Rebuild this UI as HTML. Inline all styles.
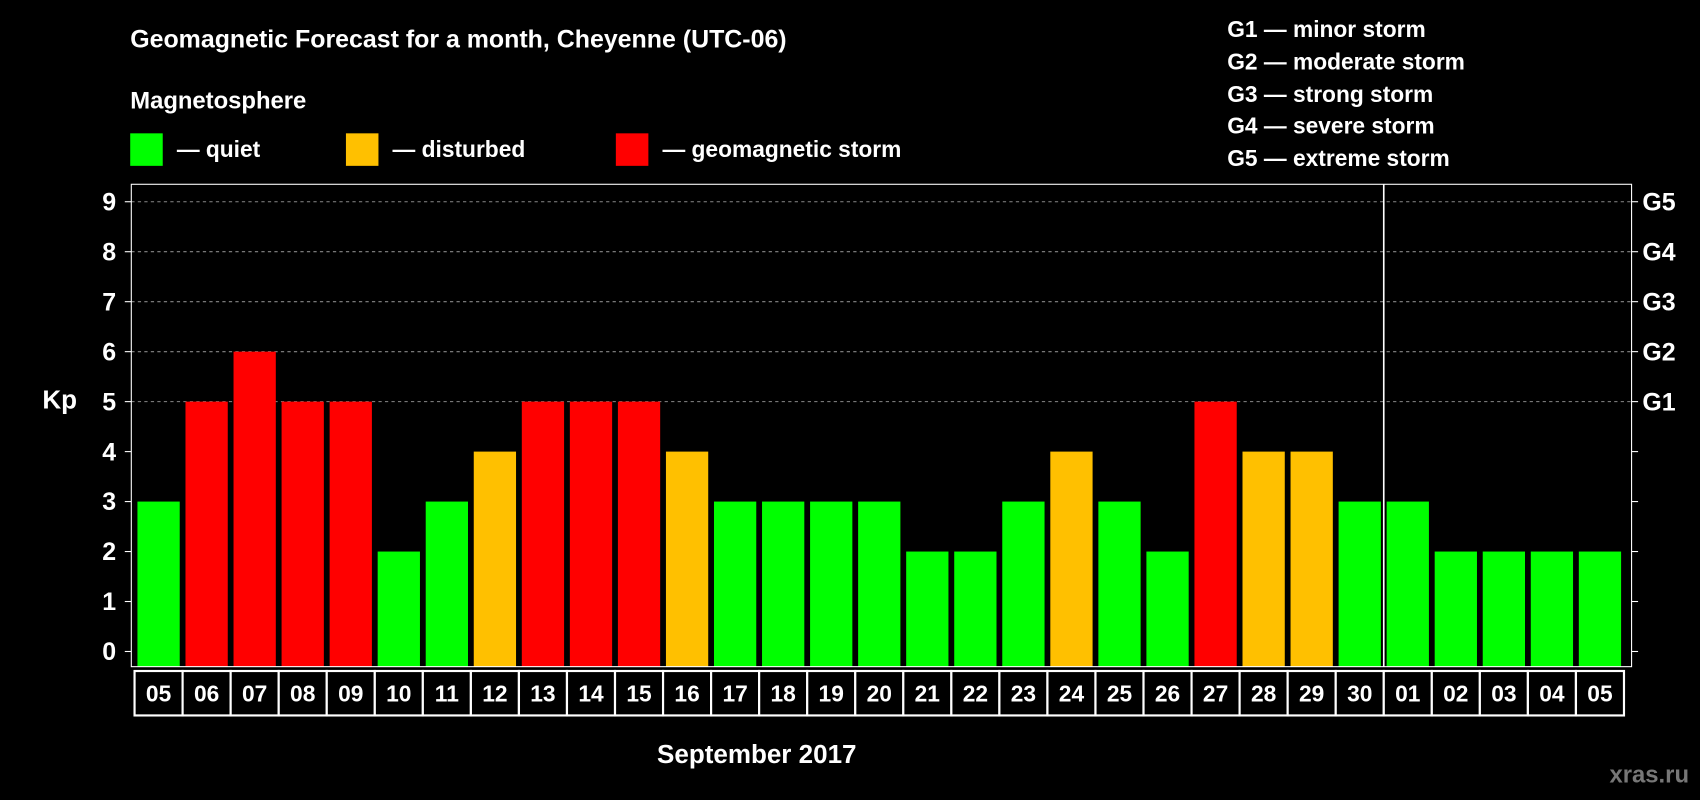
<!DOCTYPE html>
<html><head><meta charset="utf-8"><style>
html,body{margin:0;padding:0;background:#000;width:1700px;height:800px;overflow:hidden}
svg{display:block}
text{font-family:"Liberation Sans",sans-serif;font-weight:bold;fill:#fff}
</style></head><body>
<svg id="chart" width="1700" height="800" viewBox="0 0 1568 738" xmlns="http://www.w3.org/2000/svg">
<rect width="1568" height="738" fill="#000"/>
<text x="120" y="44" font-size="23">Geomagnetic Forecast for a month, Cheyenne (UTC-06)</text>
<text x="120" y="100" font-size="22">Magnetosphere</text>
<g>
<rect x="120" y="123" width="30" height="30" fill="#00ff00"/>
<text x="163" y="145" font-size="21">— quiet</text>
<rect x="319" y="123" width="30" height="30" fill="#ffc000"/>
<text x="362" y="145" font-size="21">— disturbed</text>
<rect x="568" y="123" width="30" height="30" fill="#ff0000"/>
<text x="611" y="145" font-size="21">— geomagnetic storm</text>
</g>
<g font-size="21">
<text x="1132" y="34">G1 — minor storm</text>
<text x="1132" y="64">G2 — moderate storm</text>
<text x="1132" y="94">G3 — strong storm</text>
<text x="1132" y="123">G4 — severe storm</text>
<text x="1132" y="153">G5 — extreme storm</text>
</g>
<text x="39" y="377" font-size="24">Kp</text>
<text x="698" y="704" font-size="24" text-anchor="middle">September 2017</text>
<text x="1558" y="722" font-size="22" text-anchor="end" fill="#777" style="fill:#777">xras.ru</text>
<g id="plot"></g>
</svg>
<script>
const dayLabels=["05","06","07","08","09","10","11","12","13","14","15","16","17","18","19","20","21","22","23","24","25","26","27","28","29","30","01","02","03","04","05"];
const kpValues=[3,5,6,5,5,2,3,4,5,5,5,4,3,3,3,3,2,2,3,4,3,2,5,4,4,3,3,2,2,2,2];
const yTicks=[0,1,2,3,4,5,6,7,8,9];
const gLabels=["G1","G2","G3","G4","G5"];
const gLevels=[5,6,7,8,9];
const monthBoundaryIndex=26;
const NS="http://www.w3.org/2000/svg";
const plot=document.getElementById('plot');
const L=121,R=1505,T=170,B=615,x0=124,step=(1498-124)/31;
const y=v=>601-v*46.1;
const xc=i=>x0+step*(i+0.5);
function mk(t,a){const e=document.createElementNS(NS,t);for(const k in a)e.setAttribute(k,a[k]);plot.appendChild(e);return e;}
// gridlines
gLevels.forEach((v,i)=>{
 const g=mk('line',{x1:L,x2:R,y1:y(v),y2:y(v),stroke:'#888','stroke-dasharray':'3,3','stroke-width':1});
 
 
 const t=mk('text',{x:R+10,y:y(v)+8,'font-size':23});
 t.textContent=gLabels[i];
 
 
});
// bars
kpValues.forEach((v,i)=>{
 const c=v>=5?'#ff0000':(v>=4?'#ffc000':'#00ff00');
 const b=mk('rect',{x:xc(i)-19.5,y:y(v),width:39,height:B-y(v),fill:c});
 
 
});
// axis frame
const fr=mk('rect',{x:L,y:T,width:R-L,height:B-T,fill:'none',stroke:'#fff','stroke-width':1});


const vl=mk('line',{x1:x0+step*monthBoundaryIndex,x2:x0+step*monthBoundaryIndex,y1:T,y2:B,stroke:'#fff','stroke-width':1.5});


yTicks.forEach(v=>{
 const a=mk('line',{x1:L-6,x2:L,y1:y(v),y2:y(v),stroke:'#fff'});
 
 
 const b=mk('line',{x1:R,x2:R+6,y1:y(v),y2:y(v),stroke:'#fff'});
 
 
 const t=mk('text',{x:L-14,y:y(v)+8,'font-size':23,'text-anchor':'end'});
 t.textContent=v;
 
 
});
// date boxes
dayLabels.forEach((d,i)=>{
 const r=mk('rect',{x:x0+step*i,y:619,width:step,height:41,fill:'#000',stroke:'#fff','stroke-width':2});
 
 
 const t=mk('text',{x:xc(i),y:647,'font-size':21,'text-anchor':'middle'});
 t.textContent=d;
 
 
});
</script>
</body></html>
